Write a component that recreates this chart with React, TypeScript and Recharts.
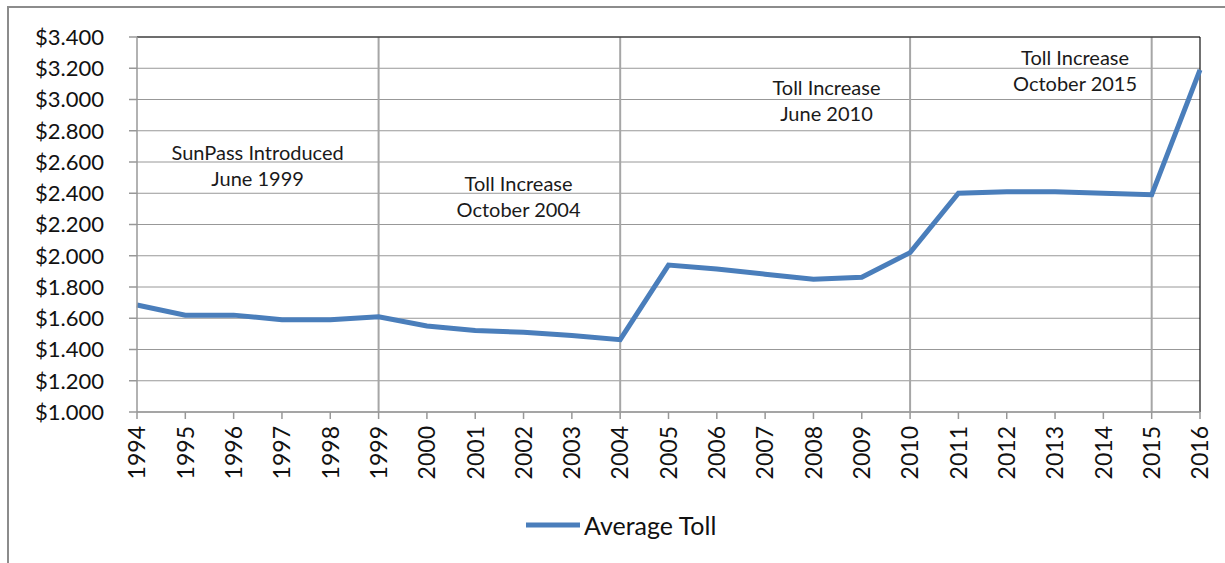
import React from "react";
import {
  LineChart, Line, XAxis, YAxis, CartesianGrid, ReferenceLine, ReferenceDot, Legend,
} from "recharts";

const years = [
  "1994", "1995", "1996", "1997", "1998", "1999", "2000", "2001", "2002", "2003", "2004",
  "2005", "2006", "2007", "2008", "2009", "2010", "2011", "2012", "2013", "2014", "2015", "2016",
];
const averageToll = [
  1.685, 1.62, 1.62, 1.59, 1.59, 1.61, 1.55, 1.522, 1.51, 1.49, 1.463,
  1.94, 1.915, 1.882, 1.85, 1.862, 2.02, 2.40, 2.41, 2.41, 2.40, 2.39, 3.19,
];
const yTicks = [1.0, 1.2, 1.4, 1.6, 1.8, 2.0, 2.2, 2.4, 2.6, 2.8, 3.0, 3.2, 3.4];
const eventYears = ["1999", "2004", "2010", "2015"];
const annotations = [
  { year: "1996", value: 2.58, dx: 24, lines: ["SunPass Introduced", "June 1999"] },
  { year: "2002", value: 2.382, dx: -5, lines: ["Toll Increase", "October 2004"] },
  { year: "2008", value: 2.994, dx: 13, lines: ["Toll Increase", "June 2010"] },
  { year: "2013", value: 3.192, dx: 20, lines: ["Toll Increase", "October 2015"] },
];

const data = years.map((y, i) => ({ year: y, toll: averageToll[i] }));

const FONT = "Lato, 'Open Sans', sans-serif";
const BLUE = "#4a7ebb";
const GRID = "#989898";

function YearTick({ x, y, payload }: any) {
  return (
    <g transform={`translate(${x},${y})`}>
      <text transform="rotate(-90)" x={-5} y={0} dy="0.36em" textAnchor="end"
        fontFamily={FONT} fontSize={23} fill="#111">
        {payload.value}
      </text>
    </g>
  );
}

function annotationLabel(lines: string[], dx: number) {
  return (props: any) => {
    const vb = props.viewBox || {};
    const cx = (vb.x ?? 0) + (vb.width ?? 0) / 2 + dx;
    const cy = (vb.y ?? 0) + (vb.height ?? 0) / 2;
    return (
      <g>
        {lines.map((t, i) => (
          <text key={i} x={cx} y={cy + (i - 0.5) * 26} textAnchor="middle" dominantBaseline="central"
            fontFamily={FONT} fontSize={20} fill="#1a1a1a">
            {t}
          </text>
        ))}
      </g>
    );
  };
}

function LegendBox() {
  return (
    <div style={{ display: "flex", alignItems: "center", fontFamily: FONT, fontSize: 25, color: "#111", lineHeight: "28px" }}>
      <svg width={56} height={10}><line x1={1} y1={5} x2={55} y2={5} stroke={BLUE} strokeWidth={5} /></svg>
      <span style={{ marginLeft: 3 }}>Average Toll</span>
    </div>
  );
}

export default function App() {
  return (
    <div style={{ position: "absolute", left: 0, top: 0, width: 1225, height: 563, overflow: "hidden", background: "#fff" }}>
      <div style={{
        position: "absolute", left: 7, top: 6, width: 1218, height: 557, boxSizing: "border-box",
        borderTop: "2px solid #8c8c8c", borderLeft: "2px solid #8c8c8c",
      }} />
      <div style={{ position: "absolute", left: 0, top: 0 }}>
        <LineChart width={1225} height={563} data={data}
          margin={{ top: 37, right: 25, left: 0, bottom: 43 }}>
          <CartesianGrid vertical={false} stroke={GRID} strokeWidth={1} />
          <XAxis dataKey="year" height={80} interval={0} stroke={GRID} strokeWidth={1.5}
            tickSize={7} tickMargin={2} tick={<YearTick />} />
          <YAxis width={137} domain={[1, 3.4]} ticks={yTicks} interval={0} stroke={GRID} strokeWidth={1.5}
            tickSize={8} tickMargin={25}
            tick={{ fontFamily: FONT, fontSize: 22, fill: "#111" }}
            tickFormatter={(v: number) => `$${v.toFixed(3)}`} />
          {eventYears.map((y) => (
            <ReferenceLine key={y} x={y} stroke="#a6a6a6" strokeWidth={2} />
          ))}
          <ReferenceLine y={3.4} stroke="#111" strokeWidth={1.2} />
          <ReferenceLine x="2016" stroke="#111" strokeWidth={1.2} />
          {annotations.map((a) => (
            <ReferenceDot key={a.year + a.lines[1]} x={a.year} y={a.value} r={1}
              fill="none" stroke="none" label={annotationLabel(a.lines, a.dx)} />
          ))}
          <Line type="linear" dataKey="toll" name="Average Toll" stroke={BLUE} strokeWidth={5}
            dot={false} activeDot={false} isAnimationActive={false} />
          <Legend content={<LegendBox />}
            wrapperStyle={{ left: 525, top: 511, width: "auto", bottom: "auto" }} />
        </LineChart>
      </div>
    </div>
  );
}
